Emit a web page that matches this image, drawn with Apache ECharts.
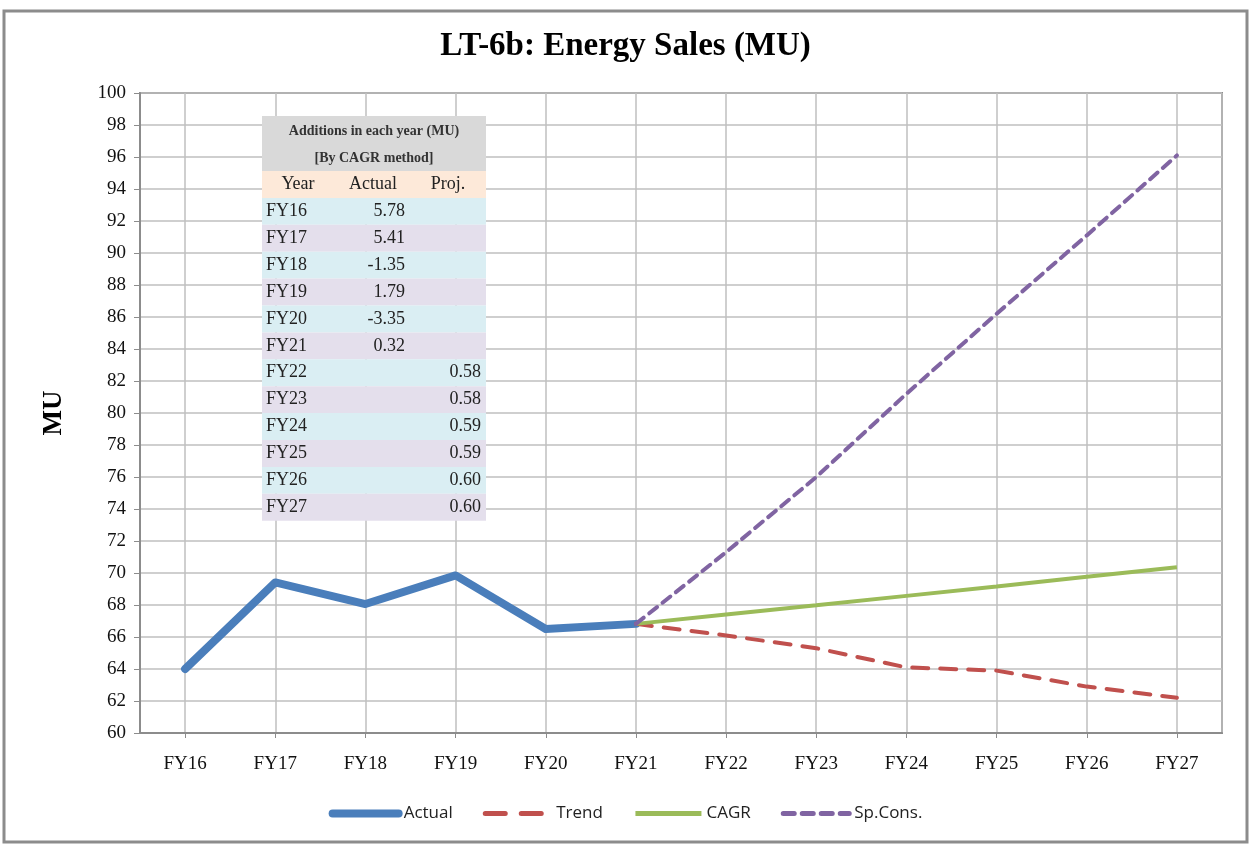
<!DOCTYPE html>
<html>
<head>
<meta charset="utf-8">
<script src="https://cdn.jsdelivr.net/npm/echarts@6/dist/echarts.min.js"></script>
<style>
  html, body { margin: 0; padding: 0; background: #fff; }
  #chart { width: 1251px; height: 846px; }
</style>
</head>
<body>
<div id="chart"></div>
<script>
  // categories and series
  const categories = ['FY16', 'FY17', 'FY18', 'FY19', 'FY20', 'FY21', 'FY22', 'FY23', 'FY24', 'FY25', 'FY26', 'FY27'];
  const actual = [64.0, 69.41, 68.06, 69.85, 66.5, 66.82, null, null, null, null, null, null];
  const trend = [null, null, null, null, null, 66.82, 66.1, 65.3, 64.1, 63.9, 62.9, 62.2];
  const cagr = [null, null, null, null, null, 66.82, 67.4, 67.98, 68.57, 69.16, 69.76, 70.36];
  const spCons = [null, null, null, null, null, 66.82, 71.3, 76.0, 81.2, 86.2, 91.1, 96.1];

  // inset table: additions in each year
  const tableYears = ['FY16', 'FY17', 'FY18', 'FY19', 'FY20', 'FY21', 'FY22', 'FY23', 'FY24', 'FY25', 'FY26', 'FY27'];
  const tableActual = ['5.78', '5.41', '-1.35', '1.79', '-3.35', '0.32', '', '', '', '', '', ''];
  const tableProj = ['', '', '', '', '', '', '0.58', '0.58', '0.59', '0.59', '0.60', '0.60'];

  const myChart = echarts.init(document.getElementById('chart'));
  const serif = '"Liberation Serif", "DejaVu Serif", serif';

  // table graphic
  let tx = 262, ty = 116, tw = 224, rowH = 26.9
  let rowFont = '18px ' + serif
  let tableEls = [
    { type: 'rect', z: 50, shape: { x: tx, y: ty, width: tw, height: 55 }, style: { fill: '#d9d9d9' } },
    { type: 'text', z: 51, x: tx + tw / 2, y: ty + 15, style: { text: 'Additions in each year (MU)', font: 'bold 14px ' + serif, fill: '#333', align: 'center', verticalAlign: 'middle' } },
    { type: 'text', z: 51, x: tx + tw / 2, y: ty + 42, style: { text: '[By CAGR method]', font: 'bold 14px ' + serif, fill: '#333', align: 'center', verticalAlign: 'middle' } },
    { type: 'rect', z: 50, shape: { x: tx, y: ty + 55, width: tw, height: rowH }, style: { fill: '#fde9d9' } },
    { type: 'text', z: 51, x: tx + 36, y: ty + 55 + rowH / 2, style: { text: 'Year', font: rowFont, fill: '#222', align: 'center', verticalAlign: 'middle' } },
    { type: 'text', z: 51, x: tx + 111, y: ty + 55 + rowH / 2, style: { text: 'Actual', font: rowFont, fill: '#222', align: 'center', verticalAlign: 'middle' } },
    { type: 'text', z: 51, x: tx + 186, y: ty + 55 + rowH / 2, style: { text: 'Proj.', font: rowFont, fill: '#222', align: 'center', verticalAlign: 'middle' } }
  ]
  tableYears.forEach((yr, i) => {
    let ry = ty + 55 + rowH * (i + 1)
    tableEls.push({ type: 'rect', z: 50, shape: { x: tx, y: ry, width: tw, height: rowH }, style: { fill: i % 2 === 0 ? '#daeef3' : '#e4dfec' } })
    tableEls.push({ type: 'text', z: 51, x: tx + 4, y: ry + rowH / 2, style: { text: yr, font: rowFont, fill: '#222', align: 'left', verticalAlign: 'middle' } })
    tableEls.push({ type: 'text', z: 51, x: tx + 143, y: ry + rowH / 2, style: { text: tableActual[i], font: rowFont, fill: '#222', align: 'right', verticalAlign: 'middle' } })
    tableEls.push({ type: 'text', z: 51, x: tx + 219, y: ry + rowH / 2, style: { text: tableProj[i], font: rowFont, fill: '#222', align: 'right', verticalAlign: 'middle' } })
  })

  let option = {
    backgroundColor: '#fff',
    animation: false,
    title: {
      text: 'LT-6b: Energy Sales (MU)',
      left: 'center',
      top: 25,
      textStyle: { fontFamily: serif, fontWeight: 'bold', fontSize: 33, color: '#000' }
    },
    legend: {
      bottom: 19,
      left: 'center',
      itemWidth: 66,
      itemHeight: 14,
      itemGap: 30,
      itemStyle: { opacity: 0 },
      textStyle: { fontFamily: '"Open Sans", sans-serif', fontSize: 17, color: '#222' },
      data: [
        { name: 'Actual', lineStyle: { width: 8, cap: 'round' } },
        { name: 'Trend', lineStyle: { width: 5, type: [20, 16], cap: 'round' } },
        { name: 'CAGR', lineStyle: { width: 5 } },
        { name: 'Sp.Cons.', lineStyle: { width: 5, type: [11, 8], cap: 'round' } }
      ]
    },
    grid: {
      left: 140,
      right: 29,
      top: 93,
      bottom: 113,
      show: true,
      borderColor: '#8c8c8c',
      borderWidth: 2
    },
    xAxis: [
      {
        type: 'category',
        data: categories,
        boundaryGap: true,
        axisLine: { lineStyle: { color: '#8c8c8c', width: 2 } },
        axisTick: { show: true, alignWithLabel: true, length: 5, lineStyle: { color: '#8c8c8c' } },
        splitLine: { show: false },
        axisLabel: { margin: 22, fontFamily: serif, fontSize: 19, color: '#111' }
      },
      {
        // helper axis: vertical gridlines through category centres
        type: 'category',
        data: categories.concat(categories).map(() => ''),
        position: 'bottom',
        boundaryGap: true,
        axisLine: { show: false },
        axisTick: { show: false },
        axisLabel: { show: false },
        splitLine: {
          show: true,
          interval: (i) => i % 2 === 1,
          lineStyle: { color: '#bfbfbf', width: 1.5 }
        }
      }
    ],
    yAxis: {
      type: 'value',
      min: 60,
      max: 100,
      interval: 2,
      name: 'MU',
      nameLocation: 'middle',
      nameRotate: 90,
      nameGap: 72,
      nameTextStyle: { fontFamily: serif, fontWeight: 'bold', fontSize: 27, color: '#000' },
      axisLine: { show: true, lineStyle: { color: '#8c8c8c', width: 2 } },
      axisTick: { show: true, length: 6, lineStyle: { color: '#8c8c8c' } },
      axisLabel: { margin: 14, fontFamily: serif, fontSize: 19, color: '#111' },
      splitLine: { lineStyle: { color: '#bfbfbf', width: 1.5 } }
    },
    series: [
      {
        name: 'Actual', type: 'line', data: actual, xAxisIndex: 0,
        symbol: 'none', color: '#4a7ebb',
        lineStyle: { width: 8, color: '#4a7ebb', cap: 'round', join: 'round' }
      },
      {
        name: 'Trend', type: 'line', data: trend, xAxisIndex: 0,
        symbol: 'none', color: '#c0504d',
        lineStyle: { width: 4, color: '#c0504d', type: [16, 12], cap: 'round' }
      },
      {
        name: 'CAGR', type: 'line', data: cagr, xAxisIndex: 0,
        symbol: 'none', color: '#9bbb59',
        lineStyle: { width: 4, color: '#9bbb59' }
      },
      {
        name: 'Sp.Cons.', type: 'line', data: spCons, xAxisIndex: 0,
        symbol: 'none', color: '#8064a2',
        lineStyle: { width: 4, color: '#8064a2', type: [10, 7], cap: 'round' }
      }
    ],
    graphic: [
      { type: 'rect', shape: { x: 4, y: 11, width: 1243, height: 831 }, style: { fill: 'none', stroke: '#8c8c8c', lineWidth: 3 }, z: 100 },
      { type: 'group', children: tableEls }
    ]
  };
  myChart.setOption(option);
</script>
</body>
</html>
